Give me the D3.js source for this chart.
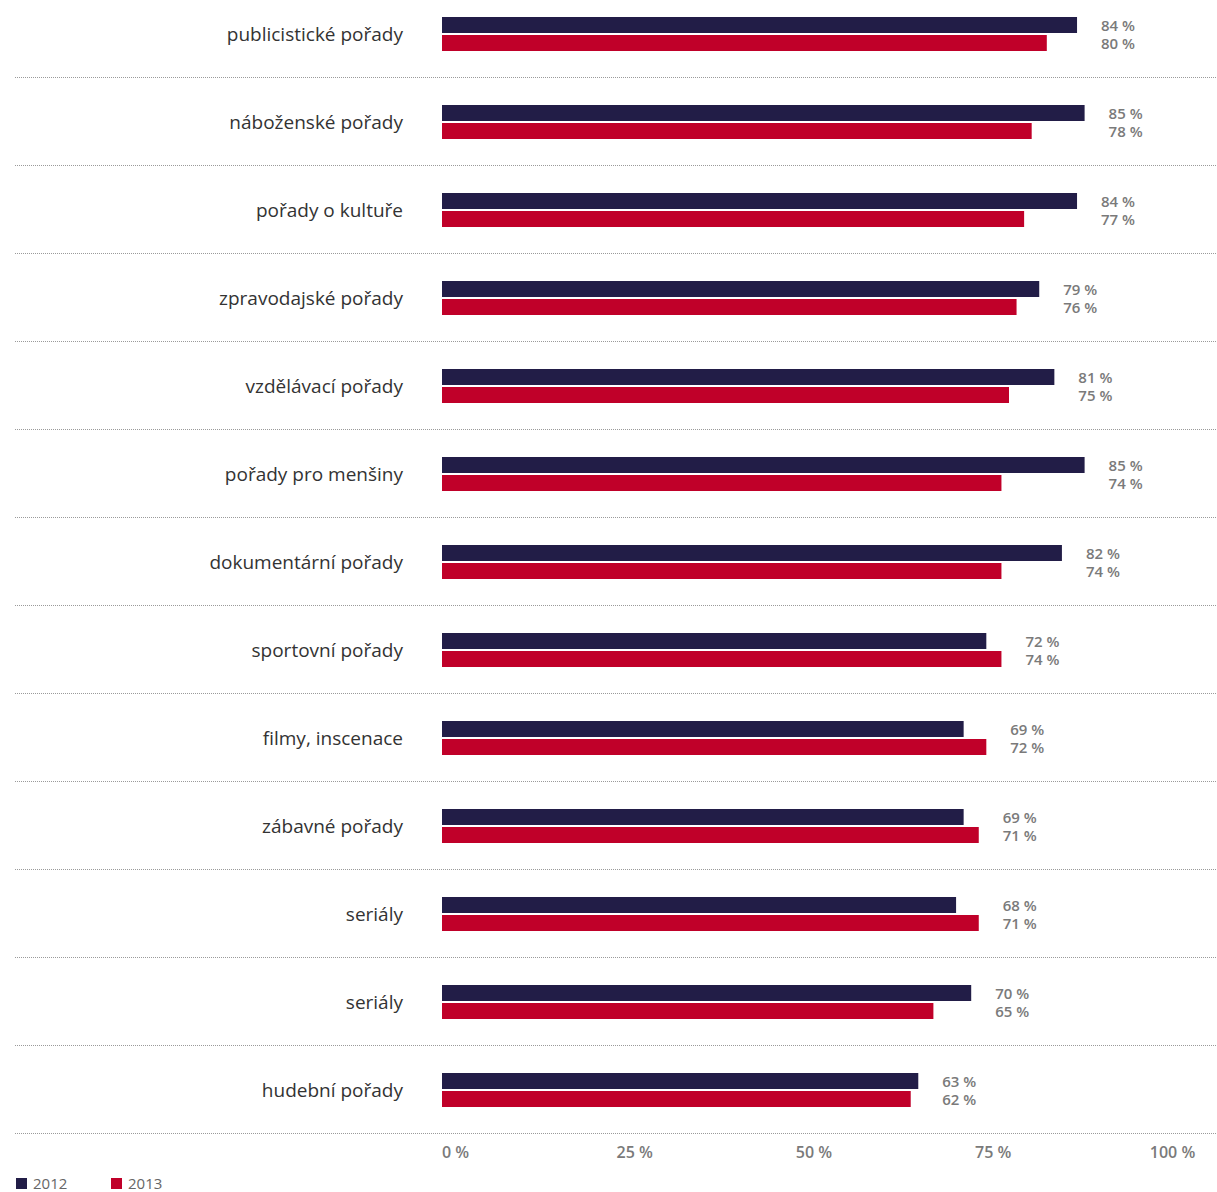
<!DOCTYPE html>
<html><head><meta charset="utf-8">
<script src="https://cdn.jsdelivr.net/npm/d3@7"></script>
<style>
html,body{margin:0;padding:0;background:#fff;}
svg{display:block;}
</style></head>
<body><svg id="c" width="1217" height="1192"></svg>
<script>
const categories = ["publicistické pořady","náboženské pořady","pořady o kultuře","zpravodajské pořady","vzdělávací pořady","pořady pro menšiny","dokumentární pořady","sportovní pořady","filmy, inscenace","zábavné pořady","seriály","seriály","hudební pořady"];
const values2012 = [84,85,84,79,81,85,82,72,69,69,68,70,63];
const values2013 = [80,78,77,76,75,74,74,74,72,71,71,65,62];
const seriesNames = ["2012","2013"];
const tickValues = [0,25,50,75,100];
const colors = ["#221d47","#c00029"];

const svg = d3.select("#c");
const font = "'Open Sans', 'Noto Sans', sans-serif";

const x = d3.scaleLinear().domain([0,100]).range([442,1198]);
const y = d3.scaleBand().domain(d3.range(categories.length)).range([-10,1134]).paddingInner(0).paddingOuter(0);
const barH = 16, gap = 2;

// separators
svg.append("g").selectAll("line").data(d3.range(categories.length)).join("line")
  .attr("x1",15).attr("x2",1217)
  .attr("y1",i=>y(i)+y.bandwidth()-0.5).attr("y2",i=>y(i)+y.bandwidth()-0.5)
  .attr("stroke","#9a9a9a").attr("stroke-width",1).attr("stroke-dasharray","1,1");

const rows = svg.append("g").selectAll("g").data(categories.map((c,i)=>({c,i,a:values2012[i],b:values2013[i]}))).join("g")
  .attr("transform",d=>`translate(0,${y(d.i)+y.bandwidth()/2})`);

rows.append("text").attr("x",403).attr("y",0).attr("dy","0.35em")
  .attr("text-anchor","end").attr("font-family",font).attr("font-size",19)
  .attr("fill","#333").text(d=>d.c);

rows.append("rect").attr("x",x(0)).attr("y",-barH-gap/2).attr("height",barH)
  .attr("width",d=>x(d.a)-x(0)).attr("fill",colors[0]);
rows.append("rect").attr("x",x(0)).attr("y",gap/2).attr("height",barH)
  .attr("width",d=>x(d.b)-x(0)).attr("fill",colors[1]);

rows.append("text").attr("x",d=>x(Math.max(d.a,d.b))+58).attr("y",-8.5).attr("dy","0.35em")
  .attr("text-anchor","end").attr("font-family",font).attr("font-size",15).attr("font-weight",600)
  .attr("fill","#7a7a7a").text(d=>d.a+" %");
rows.append("text").attr("x",d=>x(Math.max(d.a,d.b))+58).attr("y",9.5).attr("dy","0.35em")
  .attr("text-anchor","end").attr("font-family",font).attr("font-size",15).attr("font-weight",600)
  .attr("fill","#7a7a7a").text(d=>d.b+" %");

// axis labels
const xl = d3.scaleLinear().domain([0,100]).range([455,1172]);
const ax = svg.append("g").attr("transform","translate(0,1134)")
  .call(d3.axisBottom(xl).tickValues(tickValues).tickSize(0).tickPadding(13).tickFormat(d=>d+" %"));
ax.select(".domain").remove();
ax.selectAll("text").attr("font-family",font).attr("font-size",16).attr("font-weight",600).attr("fill","#7a7a7a");

// legend
const lg = svg.append("g").selectAll("g").data(seriesNames).join("g")
  .attr("transform",(d,i)=>`translate(${16+i*95},1178)`);
lg.append("rect").attr("width",11).attr("height",11).attr("fill",(d,i)=>colors[i]);
lg.append("text").attr("x",17).attr("y",6).attr("dy","0.35em").attr("font-family",font).attr("font-size",15)
  .attr("fill","#666").text(d=>d);
</script></body></html>
